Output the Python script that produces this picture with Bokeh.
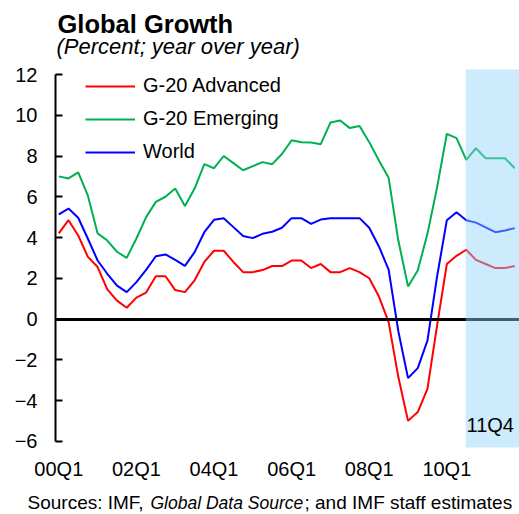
from bokeh.plotting import figure
from bokeh.models import (Range1d, FixedTicker, BoxAnnotation, Label, LinearAxis,
                          Legend, LegendItem)
from bokeh.embed import file_html
from bokeh.resources import INLINE

# ---- data (quarterly, 2000Q1 .. 2011Q4) ----
quarters = [f"{y:02d}Q{q}" for y in range(0, 12) for q in range(1, 5)]
tick_labels = ["00Q1", "02Q1", "04Q1", "06Q1", "08Q1", "10Q1"]
forecast_start = "10Q3"

g20_advanced = [4.2, 4.85, 4.1, 3.05, 2.55, 1.45, 0.9, 0.55, 1.05, 1.3, 2.1, 2.1,
                1.42, 1.32, 1.9, 2.8, 3.35, 3.35, 2.8, 2.3, 2.3, 2.4, 2.6, 2.6,
                2.87, 2.87, 2.5, 2.7, 2.3, 2.3, 2.5, 2.3, 2.0, 1.1, -0.15, -2.85,
                -5.0, -4.57, -3.43, -0.3, 2.7, 3.1, 3.4, 2.9, 2.7, 2.5, 2.5, 2.6]
g20_emerging = [7.0, 6.9, 7.2, 6.05, 4.2, 3.85, 3.3, 3.0, 3.95, 5.0, 5.75, 6.0,
                6.4, 5.55, 6.4, 7.6, 7.4, 8.0, 7.65, 7.3, 7.5, 7.7, 7.6, 8.1,
                8.77, 8.68, 8.66, 8.58, 9.64, 9.74, 9.37, 9.47, 8.68, 7.78, 6.93, 3.85,
                1.6, 2.38, 4.18, 6.47, 9.09, 8.88, 7.81, 8.38, 7.89, 7.89, 7.89, 7.4]
world = [5.13, 5.42, 4.97, 3.94, 2.87, 2.22, 1.64, 1.32, 1.81, 2.41, 3.08, 3.17,
         2.9, 2.61, 3.28, 4.26, 4.87, 4.95, 4.51, 4.07, 3.97, 4.18, 4.28, 4.48,
         4.95, 4.95, 4.67, 4.88, 4.95, 4.95, 4.95, 4.95, 4.48, 3.56, 2.42, -0.6,
         -2.9, -2.41, -1.06, 2.1, 4.85, 5.24, 4.85, 4.73, 4.5, 4.26, 4.34, 4.46]

x = list(range(len(quarters)))

FONT = "Liberation Sans"
W, H = 519, 514

# plot area limits (data units)
X_LO, X_HI = -0.34, 47.49     # left axis position .. right edge
Y_LO, Y_HI = -6.307, 12.245   # bottom / top of the shaded frame

p = figure(width=W, height=H, output_backend="svg", toolbar_location=None,
           x_range=Range1d(-6.01, 47.49), y_range=Range1d(-9.595, 15.632),
           x_axis_location=None, y_axis_location=None, min_border=0)
p.outline_line_color = None
p.grid.visible = False
p.background_fill_color = "white"
p.border_fill_color = "white"

r_adv = p.line(x, g20_advanced, line_color="#FF0000", line_width=2)
r_emg = p.line(x, g20_emerging, line_color="#00B050", line_width=2)
r_wld = p.line(x, world, line_color="#0000FF", line_width=2)

# y axis
ya = LinearAxis(fixed_location=X_LO, bounds=(-6, 12),
                ticker=FixedTicker(ticks=list(range(-6, 13, 2))))
ya.axis_line_width = 2
ya.axis_line_color = "black"
ya.major_tick_in = 7
ya.major_tick_out = 0
ya.major_tick_line_width = 2
ya.minor_tick_line_color = None
ya.major_label_text_font = FONT
ya.major_label_text_font_size = "20px"
ya.major_label_text_color = "black"
ya.major_label_standoff = 18
p.add_layout(ya, "left")

# x axis (labels only)
tick_pos = [quarters.index(t) for t in tick_labels]
xa = LinearAxis(fixed_location=Y_LO, ticker=FixedTicker(ticks=tick_pos))
xa.major_label_overrides = {t: lab for t, lab in zip(tick_pos, tick_labels)}
xa.axis_line_color = None
xa.major_tick_line_color = None
xa.minor_tick_line_color = None
xa.major_label_text_font = FONT
xa.major_label_text_font_size = "20px"
xa.major_label_text_color = "black"
xa.major_label_standoff = 4
p.add_layout(xa, "below")

# zero line (axis at y = 0, no ticks or labels)
za = LinearAxis(fixed_location=0, bounds=(X_LO, X_HI), ticker=FixedTicker(ticks=[]))
za.axis_line_width = 3
za.axis_line_color = "black"
za.major_tick_line_color = None
za.minor_tick_line_color = None
za.major_label_text_alpha = 0
p.add_layout(za, "below")

# forecast shading (over the lines)
p.add_layout(BoxAnnotation(left=quarters.index(forecast_start) - 0.05,
                           top=Y_HI, bottom=Y_LO,
                           fill_color="#8FD3FA", fill_alpha=0.45,
                           line_color=None))

legend = Legend(items=[LegendItem(label="G-20 Advanced", renderers=[r_adv]),
                       LegendItem(label="G-20 Emerging", renderers=[r_emg]),
                       LegendItem(label="World", renderers=[r_wld])],
                location=(85, 351), glyph_width=50, glyph_height=20,
                label_height=20, label_standoff=8, spacing=10, padding=0,
                margin=0, border_line_color=None, background_fill_alpha=0,
                label_text_font=FONT, label_text_font_size="20px",
                label_text_color="black")
p.add_layout(legend)

BASE_FIX = 9  # rendered baseline sits this many px below the requested one


def lab(text, cx, baseline, size, style="normal"):
    p.add_layout(Label(x=cx, y=H - baseline + BASE_FIX, x_units="screen",
                       y_units="screen", text=text, text_font=FONT,
                       text_font_size=size, text_font_style=style,
                       text_color="black", text_baseline="alphabetic",
                       text_align="left"))


lab("Global Growth", 57, 32, "25.5px", "bold")
lab("(Percent; year over year)", 56, 55, "22px", "italic")
lab("11Q4", 466, 433, "20px")
lab("Sources: IMF, ", 27, 511, "19px")
lab("Global Data Source", 150, 511, "17.5px", "italic")
lab("; and IMF staff estimates", 304, 511, "19px")

open("out.html", "w").write(file_html(p, INLINE))
